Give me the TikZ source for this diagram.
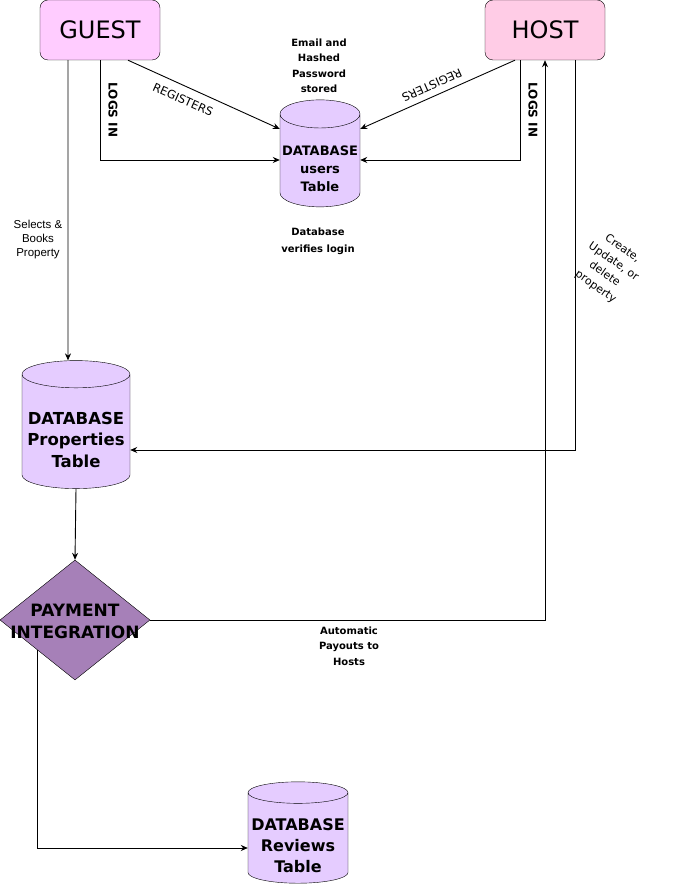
\documentclass[tikz,border=0pt]{standalone}
\usepackage{fontspec}
\setmainfont{DejaVu Sans}
\newfontfamily\arialfont{Liberation Sans}
\usetikzlibrary{shapes.geometric,arrows.meta,positioning}
\definecolor{guestfill}{HTML}{FFCCFF}
\definecolor{hostfill}{HTML}{FFCCE6}
\definecolor{dbfill}{HTML}{E5CCFF}
\definecolor{payfill}{HTML}{A680B8}
\newcommand{\dblift}[1]{\rule{0pt}{#1pt}}

\begin{document}
\begin{tikzpicture}[x=1pt,y=-1pt]

\tikzset{actor/.style={
    draw, rounded corners=8pt,
    minimum width=120, minimum height=60,
    font=\fontsize{24}{28}\selectfont
  },
  dbcyl/.style={
    cylinder, shape border rotate=90,
    draw, fill=dbfill, inner sep=0pt, align=center,
    font=\bfseries\fontsize{#1}{\dimexpr#1pt+5pt\relax}\selectfont
  },
  dbtext/.style={
    align=center, inner sep=0pt,
    font=\bfseries\fontsize{#1}{\dimexpr#1pt+5pt\relax}\selectfont
  },
  paydiamond/.style={
    diamond, draw, fill=payfill, inner sep=0pt,
    minimum width=150, minimum height=120
  },
  flow/.style={-{Stealth[length=7pt,width=6pt]}, line width=0.9pt},
  note/.style={align=center, font=\bfseries\fontsize{10}{15.5}\selectfont},
  tag/.style={font=\fontsize{11.5}{13}\selectfont}
}

\useasboundingbox (0,0) rectangle (677,890);

\node[actor, fill=guestfill] (guest) at (100,30) {GUEST};
\node[actor, fill=hostfill] (host) at (545,30) {HOST};
\node[dbcyl=13, aspect=0.37, minimum width=80, minimum height=107] (users) at (320,160.5) {\dblift{26}DATABASE\\users\\Table};
\node[dbcyl=16.5, aspect=0.28, minimum width=108, minimum height=128] (props) at (76,431.5) {\dblift{29}DATABASE\\Properties\\Table};
\node[paydiamond,
  label={[dbtext=17, yshift=-1pt]center:PAYMENT\\INTEGRATION}] (pay) at (75,620) {};
\node[dbcyl=16, aspect=0.23, minimum width=100, minimum height=99] (reviews) at (298,838) {\dblift{26.7}DATABASE\\Reviews\\Table};

\draw [flow] ([xshift=28pt]guest.south) -- ([yshift=31.5pt]users.west);
\draw [flow] (guest.south) |- ([yshift=0.5pt]users.west);
\draw [flow] ([xshift=-32pt]guest.south) -- ([xshift=-8pt]props.north);
\draw [flow] ([xshift=-30pt]host.south) -- ([yshift=31.5pt]users.east);
\draw [flow] ([xshift=-25pt]host.south) |- ([yshift=0.5pt]users.east);
\draw [flow] (pay.east) -| (host.south);
\draw [flow] ([xshift=30pt]host.south) |- ([yshift=-18.5pt]props.east);
\draw [flow] (props.south) -- (pay.north);
\draw [flow] (pay.south west) |- ([yshift=-10pt]reviews.west);

\node[tag, rotate=-24] (greg) at (183,100) {REGISTERS};
\node[tag, font=\bfseries\fontsize{12}{13}\selectfont, rotate=-90] (glog) at (113,110) {LOGS IN};
\node[tag, rotate=-156] (hreg) at (432,85) {REGISTERS};
\node[tag, font=\bfseries\fontsize{12}{13}\selectfont, rotate=-90] (hlog) at (533,110) {LOGS IN};
\node[note] (stored) at (319,66) {Email and\\Hashed\\Password\\stored};
\node[note, font=\bfseries\fontsize{10}{17}\selectfont] (verify) at (318,241) {Database\\verifies login};
\node[note, font=\arialfont\fontsize{11.5}{14}\selectfont] (books) at (38,240) {Selects \&\\Books\\Property};
\node[note, font=\fontsize{11}{15.5}\selectfont, rotate=-35] (crud) at (609,268) {Create,\\Update, or\\delete\\property};
\node[note] (payout) at (349,646) {Automatic\\Payouts to\\Hosts};

\end{tikzpicture}
\end{document}
